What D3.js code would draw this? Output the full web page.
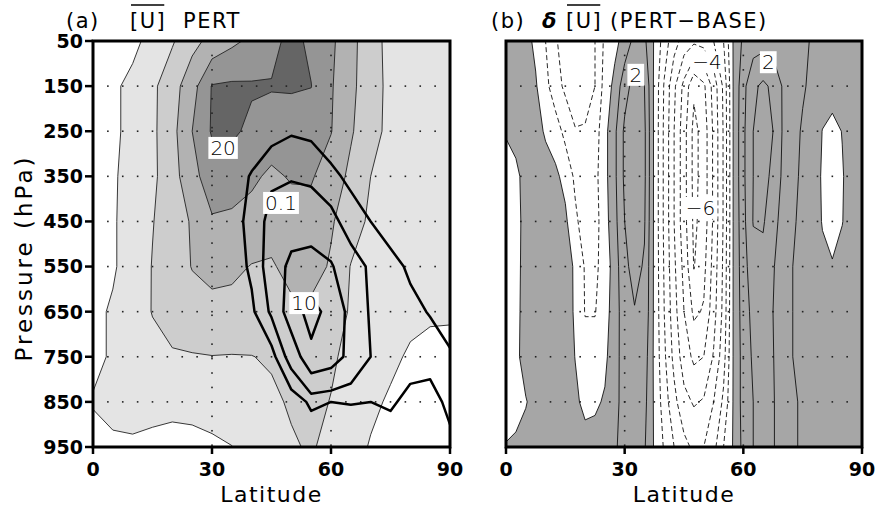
<!DOCTYPE html>
<html><head><meta charset="utf-8">
<script src="https://cdn.jsdelivr.net/npm/d3@7"></script>
<style>
body{margin:0;background:#fff;}
svg{display:block;}
text{font-family:"DejaVu Sans",sans-serif;fill:#000;}
</style>
</head><body>
<svg id="chart" width="876" height="508"></svg>
<script>
// ---- grid axes ----
const latitudesA = [0,5,10,15,20,25,30,35,40,45,50,55,60,65,70,75,80,85,90];
const latitudesB = [0,2.5,5,7.5,10,12.5,15,17.5,20,22.5,25,27.5,30,32.5,35,37.5,40,42.5,45,
                    47.5,50,52.5,55,57.5,60,62.5,65,67.5,70,72.5,75,77.5,80,82.5,85,87.5,90];
const pressureLevels = [50,150,250,350,450,550,650,750,850,950];

// ---- tick labels ----
const pressureTicks = [50,150,250,350,450,550,650,750,850,950];
const latitudeTicks = [0,30,60,90];

// ---- (a) zonal-mean zonal wind, PERT run (m/s); one row per pressure level ----
const uPert = [
  [-6,-4,-1.5,2,4.5,8.5,11.5,14,16,18.5,21.5,19,16,11.5,7,3.5,2.5,2,2],
  [-4,-1,1.5,4,8,13,20.3,20.7,20.5,20.3,20.4,20.1,15.5,11,7.5,3.5,2.5,2,2],
  [-3.5,-1,1.5,4,8.5,15,20.5,20.8,19,18,18,17.5,15.2,10.5,7,3.5,2.5,2,2],
  [-3,-0.5,1.5,4,8,13.5,17.5,17.5,16,14,15.5,15.5,12.5,9,5,3,2.5,2,2],
  [-3,-0.5,2,4.8,7.5,10.5,14.5,14,13,12,12.5,13,10.5,7.5,4,2.5,2,2,2],
  [-3,-0.5,2,5.2,7.5,10.2,11.5,11,9.8,9.5,11.5,11.8,9.5,4.8,3,2,1.5,1.2,1.2],
  [-1,0.5,2.5,5.2,7,8,8.5,8.5,8,8,9,9,7.5,4.5,2.5,1.5,1,0.6,0.5],
  [-1,0.5,2,3.5,4.5,4.7,4.9,4.8,4.9,5.5,6.5,7,5.8,3.5,2,0.8,-0.5,-1.2,-1.2],
  [0.3,1,1.5,1.8,2,2.3,2.6,3,3.5,4.2,5.5,6.5,4.8,2.5,0.8,-0.5,-1.5,-2,-2],
  [-1.5,-0.6,-0.6,-1.4,-2.5,-2.2,-1.1,-0.1,1.5,3,4.5,5.5,3.5,1.5,-0.3,-1.5,-2,-2.2,-2.2]
];
const uLevels = [0,5,10,15,20];

// ---- (a) forcing field drawn with heavy contours ----
const forcing = [
  [0,0,0,0,0,0,0,0,0,0,0,0,0,0,0,0,0,0,0],
  [0,0,0,0,0,0,0,0,0,0.01,0.01,0.01,0,0,0,0,0,0,0],
  [0,0,0,0,0,0,0,0,0.01,0.03,0.045,0.04,0.025,0.01,0,0,0,0,0],
  [0,0,0,0,0,0,0.005,0.02,0.055,0.09,0.095,0.085,0.06,0.04,0.025,0.015,0.01,0,0],
  [0,0,0,0,0,0,0.01,0.03,0.065,0.12,0.14,0.15,0.12,0.07,0.05,0.035,0.025,0.02,0.015],
  [0,0,0,0,0,0,0.005,0.02,0.06,0.13,0.23,0.24,0.21,0.13,0.09,0.06,0.045,0.035,0.025],
  [0,0,0,0,0,0,0,0.01,0.04,0.11,0.26,0.33,0.27,0.17,0.09,0.07,0.058,0.048,0.03],
  [0,0,0,0,0,0,0,0,0.01,0.03,0.13,0.28,0.25,0.17,0.1,0.075,0.065,0.065,0.055],
  [0,0,0,0,0,0,0,0,0,0.005,0.02,0.06,0.05,0.052,0.05,0.055,0.04,0.035,0.06],
  [0,0,0,0,0,0,0,0,0,0,0,0.01,0.02,0.02,0.02,0.03,0.02,0.02,0.04]
];
const forcingLevels = [0.05,0.1,0.2,0.3];

// ---- (b) PERT minus BASE zonal wind (m/s), 2.5 degree columns ----
const uDiff = [
  [0.6,0.5,0.3,-0.2,-1.0,-1.9,-2.4,-2.6,-2.5,-2.0,-0.8,-0.3,0.4,1.3,1.2,
   -0.1,-1.5,-2.6,-3.4,-3.8,-3.6,-3.0,-2.0,0.1,
   1.2,1.5,1.6,1.55,1.4,1.25,1.1,0.95,0.8,0.65,0.6,0.6,0.6],
  [0.5,0.45,0.35,0.1,-0.7,-1.6,-2.2,-2.5,-2.5,-2.0,-0.6,0.3,1.6,2.4,2.0,
   -0.2,-2.1,-3.8,-5.3,-6.8,-6.2,-4.6,-2.8,0.1,
   1.7,2.8,3.2,2.8,1.9,1.4,1.1,0.8,0.4,0.3,0.4,0.5,0.55],
  [0.1,0.3,0.4,0.3,-0.1,-0.5,-1.3,-1.95,-1.9,-1.5,-0.3,0.8,2.2,2.6,2.2,
   -0.2,-2.2,-4.0,-5.6,-7.3,-6.6,-4.8,-2.9,0.1,
   1.8,3.0,3.4,3.0,1.9,1.3,0.9,0.5,-0.02,-0.2,0.02,0.35,0.45],
  [-0.5,-0.2,0.3,0.4,0.35,0.2,-0.3,-1.2,-1.5,-1.3,-0.3,0.8,2.2,2.6,2.2,
   -0.2,-2.2,-4.0,-5.6,-7.3,-6.6,-4.8,-2.9,0.1,
   1.8,3.0,3.3,2.8,1.8,1.2,0.85,0.45,-0.1,-0.3,-0.05,0.3,0.4],
  [-0.6,-0.3,0.3,0.45,0.45,0.4,0.2,-0.8,-1.5,-1.4,-0.4,0.7,2.0,2.4,2.1,
   -0.2,-2.2,-4.0,-5.6,-7.2,-6.6,-4.8,-2.9,0.1,
   1.7,3.05,3.1,2.4,1.6,1.1,0.8,0.45,-0.05,-0.25,-0.02,0.3,0.4],
  [-0.6,-0.3,0.35,0.5,0.5,0.45,0.3,-0.1,-1.1,-1.2,-0.6,0.5,1.8,2.3,1.9,
   -0.2,-2.1,-3.8,-5.3,-7.05,-6.3,-4.6,-2.8,0.1,
   1.6,2.6,2.7,2.1,1.4,1.0,0.8,0.6,0.2,0.05,0.2,0.35,0.45],
  [-0.55,-0.25,0.35,0.5,0.5,0.5,0.35,-0.1,-1.05,-1.05,-0.4,0.5,1.6,1.95,1.8,
   -0.2,-2.0,-3.6,-5.0,-6.2,-5.9,-4.4,-2.7,0.1,
   1.5,2.3,2.4,2.0,1.3,1.0,0.8,0.6,0.5,0.45,0.45,0.45,0.5],
  [-0.5,-0.2,0.35,0.5,0.55,0.55,0.4,-0.02,-0.6,-0.6,-0.2,0.6,1.5,1.7,1.5,
   -0.2,-1.8,-3.3,-4.5,-5.2,-5.0,-3.9,-2.4,0.1,
   1.4,2.15,2.35,2.05,1.35,1.0,0.8,0.6,0.5,0.45,0.45,0.45,0.5],
  [-0.4,-0.2,-0.05,0.3,0.5,0.55,0.45,0.15,-0.2,-0.15,0.1,0.7,1.4,1.5,1.3,
   -0.15,-1.5,-2.7,-3.7,-4.1,-3.9,-3.0,-1.8,0.1,
   1.4,2.0,2.35,2.1,1.4,1.1,0.9,0.6,0.5,0.45,0.45,0.45,0.5],
  [0.05,0.1,0.3,0.45,0.5,0.5,0.5,0.4,0.3,0.35,0.6,0.9,1.3,1.35,1.1,
   -0.1,-1.1,-2.0,-2.7,-3.2,-3.0,-2.3,-1.0,0.1,
   1.3,2.0,2.35,2.1,1.4,1.1,0.9,0.6,0.5,0.45,0.45,0.45,0.5]
];
const diffNegLevels = [-8,-7,-6,-5,-4,-3,-2,-1];
const diffPosLevels = [0,1,2,3];

// ---- contour labels ----
const labelsA = [
  {text:"20", lat:32.8, p:287},
  {text:"0.1", lat:47.4, p:409},
  {text:"10", lat:53.2, p:631}
];
const labelsB = [
  {text:"2", lat:32.8, p:125},
  {text:"\u22124", lat:50.8, p:97},
  {text:"\u22126", lat:49.2, p:420},
  {text:"2", lat:66.3, p:97}
];

// ---- layout ----
const plotTop = 41, plotBottom = 447;
const panels = {a:{x0:93, x1:450}, b:{x0:506, x1:862}};
const shadesA = ["#e4e4e4","#cdcdcd","#b2b2b2","#959595","#656565"];
const shadeB = "#a6a6a6";

const svg = d3.select("#chart");

function makeGrid(lats, rows){
  return {lats, nx: lats.length, ny: pressureLevels.length,
          dLat: lats[1]-lats[0], dP: pressureLevels[1]-pressureLevels[0], values: rows.flat()};
}
function makePath(grid, x, y){
  const proj = d3.geoTransform({
    point(cx, cy){
      this.stream.point(x(grid.lats[0] + (cx-0.5)*grid.dLat), y(pressureLevels[0] + (cy-0.5)*grid.dP));
    }
  });
  return d3.geoPath(proj);
}
function contourSet(grid, levels){
  return d3.contours().size([grid.nx, grid.ny]).thresholds(levels)(grid.values);
}

function setupPanel(id, pan){
  const x = d3.scaleLinear().domain([0,90]).range([pan.x0, pan.x1]);
  const y = d3.scaleLinear().domain([50,950]).range([plotTop, plotBottom]);
  svg.append("clipPath").attr("id","clip-"+id)
    .append("rect").attr("x",pan.x0).attr("y",plotTop)
    .attr("width",pan.x1-pan.x0).attr("height",plotBottom-plotTop);
  const g = svg.append("g").attr("clip-path",`url(#clip-${id})`);
  g.append("rect").attr("x",pan.x0).attr("y",plotTop).attr("width",pan.x1-pan.x0)
    .attr("height",plotBottom-plotTop).attr("fill","#fff");
  return {x, y, g};
}

function gridDots(g, x, y){
  const dots = g.append("g").attr("fill","#222");
  const latDots = d3.range(0, 90.01, 3.75);
  pressureLevels.slice(1,-1).forEach(p=>{
    latDots.forEach(l=>dots.append("rect").attr("x",x(l)-0.8).attr("y",y(p)-0.8).attr("width",1.6).attr("height",1.6));
  });
  [30,60].forEach(l=>{
    d3.range(50, 950, 32).forEach(p=>dots.append("rect").attr("x",x(l)-0.8).attr("y",y(p)-0.8).attr("width",1.6).attr("height",1.6));
  });
}

function drawLabels(g, x, y, labels){
  labels.forEach(d=>{
    const t = g.append("text").attr("x",x(d.lat)).attr("y",y(d.p))
      .attr("text-anchor","middle").attr("dominant-baseline","central")
      .attr("font-size",20).attr("font-weight",300).text(d.text);
    const bb = t.node().getBBox();
    g.insert("rect", () => t.node()).attr("x",bb.x-2).attr("y",bb.y+1)
      .attr("width",bb.width+4).attr("height",bb.height-2).attr("fill","#fff");
  });
}

function frame(pan, leftTicks){
  const x = d3.scaleLinear().domain([0,90]).range([pan.x0, pan.x1]);
  const y = d3.scaleLinear().domain([50,950]).range([plotTop, plotBottom]);
  const ax = svg.append("g");
  ax.append("rect").attr("x",pan.x0).attr("y",plotTop).attr("width",pan.x1-pan.x0)
    .attr("height",plotBottom-plotTop).attr("fill","none").attr("stroke","#000").attr("stroke-width",3);
  latitudeTicks.forEach(l=>{
    ax.append("line").attr("x1",x(l)).attr("x2",x(l)).attr("y1",plotBottom).attr("y2",plotBottom+7)
      .attr("stroke","#000").attr("stroke-width",2.5);
    ax.append("text").attr("x",x(l)).attr("y",476).attr("text-anchor","middle")
      .attr("font-size",19).attr("font-weight","bold").text(l);
  });
  if (leftTicks){
    pressureTicks.forEach(p=>{
      ax.append("line").attr("x1",pan.x0-8).attr("x2",pan.x0).attr("y1",y(p)).attr("y2",y(p))
        .attr("stroke","#000").attr("stroke-width",2.5);
      ax.append("text").attr("x",pan.x0-10).attr("y",y(p)).attr("dy","0.36em").attr("text-anchor","end")
        .attr("font-size",19).attr("font-weight","bold").text(p);
    });
  }
  ax.append("text").attr("x",(pan.x0+pan.x1)/2).attr("y",502).attr("text-anchor","middle")
    .attr("font-size",22).attr("letter-spacing",1.5).text("Latitude");
}

// ---------- panel (a) ----------
{
  const {x, y, g} = setupPanel("a", panels.a);
  const uGrid = makeGrid(latitudesA, uPert);
  const fGrid = makeGrid(latitudesA, forcing);
  const path = makePath(uGrid, x, y);
  contourSet(uGrid, uLevels).forEach((c,i)=>{
    g.append("path").attr("d",path(c)).attr("fill",shadesA[i]);
  });
  gridDots(g, x, y);
  contourSet(uGrid, uLevels).forEach(c=>{
    g.append("path").attr("d",path(c)).attr("fill","none").attr("stroke","#222").attr("stroke-width",0.9);
  });
  contourSet(fGrid, forcingLevels).forEach(c=>{
    g.append("path").attr("d",path(c)).attr("fill","none").attr("stroke","#000")
      .attr("stroke-width",2.5).attr("stroke-linejoin","round");
  });
  drawLabels(g, x, y, labelsA);
  frame(panels.a, true);
}

// ---------- panel (b) ----------
{
  const {x, y, g} = setupPanel("b", panels.b);
  const dGrid = makeGrid(latitudesB, uDiff);
  const path = makePath(dGrid, x, y);
  contourSet(dGrid, [0]).forEach(c=>{
    g.append("path").attr("d",path(c)).attr("fill",shadeB);
  });
  gridDots(g, x, y);
  contourSet(dGrid, diffNegLevels).forEach(c=>{
    g.append("path").attr("d",path(c)).attr("fill","none").attr("stroke","#111")
      .attr("stroke-width",0.9).attr("stroke-dasharray","5,3");
  });
  contourSet(dGrid, diffPosLevels).forEach(c=>{
    g.append("path").attr("d",path(c)).attr("fill","none").attr("stroke","#111").attr("stroke-width",0.9);
  });
  drawLabels(g, x, y, labelsB);
  frame(panels.b, false);
}

// ---------- titles ----------
function overbarTitle(parts, y0){
  const t = svg.append("text").attr("y",y0).attr("font-size",21).attr("letter-spacing",1.5);
  parts.forEach(p=>{
    const s = t.append("tspan").attr("x",p.x).text(p.text);
    if (p.style) s.attr("font-style",p.style).attr("font-weight","bold");
    if (p.bar) s.classed("bar", true);
  });
  t.selectAll("tspan.bar").each(function(){
    const bb = this.getBBox();
    svg.append("line").attr("x1",bb.x+1).attr("x2",bb.x+bb.width-2).attr("y1",5).attr("y2",5)
      .attr("stroke","#000").attr("stroke-width",1.6);
  });
}
overbarTitle([{text:"(a)",x:66},{text:"[U]",x:130,bar:true},{text:"PERT",x:183}], 28);
overbarTitle([{text:"(b)",x:491},{text:"\u03b4",x:542,style:"italic"},{text:"[U]",x:566,bar:true},{text:"(PERT\u2212BASE)",x:610}], 28);

// y-axis title
svg.append("text").attr("transform","translate(32,258) rotate(-90)").attr("text-anchor","middle")
  .attr("font-size",23).attr("letter-spacing",3).text("Pressure (hPa)");
</script>
</body></html>
